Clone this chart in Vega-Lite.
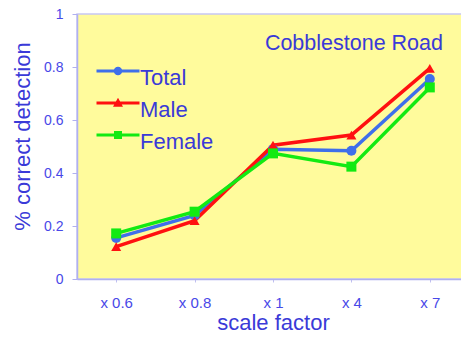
{
  "$schema": "https://vega.github.io/schema/vega-lite/v6.json",
  "autosize": {"type": "none"},
  "padding": {"left": 77, "top": 14, "right": 0, "bottom": 64},
  "width": 392,
  "height": 265,
  "background": "#ffffff",
  "config": {
    "font": "Liberation Sans",
    "view": {"fill": "#fffb9c", "stroke": "#c8c8f4", "strokeWidth": 1.5}
  },
  "title": {
    "text": "Cobblestone Road",
    "anchor": "end",
    "frame": "group",
    "orient": "top",
    "baseline": "alphabetic",
    "offset": -64,
    "dx": -26,
    "fontSize": 21.5,
    "fontWeight": "normal",
    "color": "#3a3ad8",
    "font": "Liberation Sans"
  },
  "data": {
    "values": [
      {"scale": "x 0.6", "series": "Total", "value": 0.155},
      {"scale": "x 0.8", "series": "Total", "value": 0.24},
      {"scale": "x 1", "series": "Total", "value": 0.49},
      {"scale": "x 4", "series": "Total", "value": 0.484},
      {"scale": "x 7", "series": "Total", "value": 0.755},
      {"scale": "x 0.6", "series": "Male", "value": 0.122},
      {"scale": "x 0.8", "series": "Male", "value": 0.22},
      {"scale": "x 1", "series": "Male", "value": 0.505},
      {"scale": "x 4", "series": "Male", "value": 0.543},
      {"scale": "x 7", "series": "Male", "value": 0.795},
      {"scale": "x 0.6", "series": "Female", "value": 0.172},
      {"scale": "x 0.8", "series": "Female", "value": 0.254},
      {"scale": "x 1", "series": "Female", "value": 0.474},
      {"scale": "x 4", "series": "Female", "value": 0.424},
      {"scale": "x 7", "series": "Female", "value": 0.723}
    ]
  },
  "encoding": {
    "x": {
      "field": "scale",
      "type": "nominal",
      "sort": ["x 0.6", "x 0.8", "x 1", "x 4", "x 7"],
      "scale": {"type": "point", "padding": 0.5},
      "axis": {
        "title": "scale factor",
        "labelAngle": 0,
        "labelFont": "Liberation Sans",
        "labelFontSize": 15,
        "labelColor": "#4848e8",
        "labelPadding": 13,
        "tickSize": 3,
        "tickColor": "#c0c0f0",
        "domainColor": "#b0b0f0",
        "domainWidth": 1.5,
        "titleFont": "Liberation Sans",
        "titleFontSize": 22,
        "titleFontWeight": "normal",
        "titleColor": "#3a3ad8",
        "titlePadding": 2,
        "grid": false
      }
    },
    "y": {
      "field": "value",
      "type": "quantitative",
      "scale": {"domain": [0, 1], "nice": false},
      "axis": {
        "title": "% correct detection",
        "values": [0, 0.2, 0.4, 0.6, 0.8, 1],
        "format": "~g",
        "labelFont": "Liberation Sans",
        "labelFontSize": 14,
        "labelColor": "#4848e8",
        "labelPadding": 9,
        "tickSize": 5,
        "tickColor": "#b0b0f0",
        "domainColor": "#b0b0f0",
        "domainWidth": 1.5,
        "titleFont": "Liberation Sans",
        "titleFontSize": 22,
        "titleFontWeight": "normal",
        "titleColor": "#3a3ad8",
        "titlePadding": 9,
        "titleY": 122,
        "grid": false
      }
    },
    "color": {
      "field": "series",
      "type": "nominal",
      "sort": ["Total", "Male", "Female"],
      "scale": {"domain": ["Total", "Male", "Female"], "range": ["#3f6fea", "#ff1010", "#12ea12"]}
    }
  },
  "layer": [
    {
      "mark": {"type": "line", "strokeWidth": 3.5},
      "encoding": {
        "color": {
          "field": "series",
          "type": "nominal",
          "sort": ["Total", "Male", "Female"],
          "legend": null
        },
        "order": {"field": "series"}
      }
    },
    {
      "mark": {"type": "point", "filled": true, "opacity": 1, "size": 100},
      "encoding": {
        "color": {
          "field": "series",
          "type": "nominal",
          "sort": ["Total", "Male", "Female"],
          "legend": null
        },
        "shape": {
          "field": "series",
          "type": "nominal",
          "scale": {"domain": ["Total", "Male", "Female"], "range": ["circle", "triangle-up", "square"]},
          "legend": null
        }
      }
    },
    {
      "mark": {"type": "point", "filled": true, "opacity": 0, "size": 100},
      "encoding": {
        "color": {
          "field": "series",
          "type": "nominal",
          "sort": ["Total", "Male", "Female"],
          "legend": {
            "title": null,
            "orient": "none",
            "legendX": 30,
            "legendY": 46,
            "symbolSize": 100,
            "symbolOpacity": 1,
            "symbolStrokeWidth": 0,
            "rowPadding": 3,
            "labelFont": "Liberation Sans",
            "labelFontSize": 22,
            "labelColor": "#3a3ad8",
            "labelOffset": 11,
            "labelBaseline": "middle",
            "encode": {
              "symbols": {"update": {"opacity": {"value": 1}, "fillOpacity": {"value": 1}}},
              "labels": {"update": {"dy": {"value": 7}}}
            }
          }
        },
        "shape": {
          "field": "series",
          "type": "nominal",
          "scale": {
            "domain": ["Total", "Male", "Female"],
            "range": [
              "M-4.3,-0.3H4.3V0.3H-4.3Z M0,-0.85A0.85,0.85 0 1 1 0,0.85A0.85,0.85 0 1 1 0,-0.85Z",
              "M-4.3,-0.3H4.3V0.3H-4.3Z M0,-1.05L1,0.75L-1,0.75Z",
              "M-4.3,-0.3H4.3V0.3H-4.3Z M-0.8,-0.8H0.8V0.8H-0.8Z"
            ]
          }
        }
      }
    }
  ],
  "resolve": {
    "scale": {"shape": "independent"},
    "legend": {"color": "independent", "shape": "independent"}
  }
}
